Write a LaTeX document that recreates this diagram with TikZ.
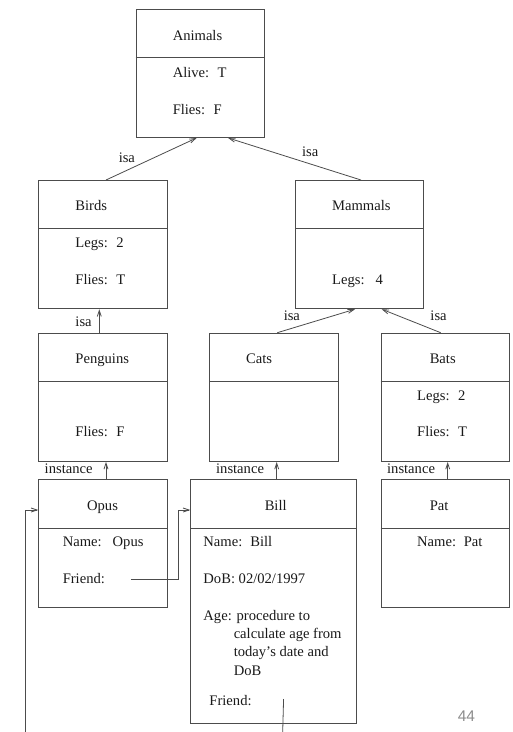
\documentclass[tikz,border=0pt]{standalone}
\usepackage{fontspec}
\setmainfont{Liberation Serif}
\newfontfamily\numfont{Liberation Sans}
\usetikzlibrary{arrows.meta}
\newcommand{\gapA}{\hspace{8.5pt}}
\newcommand{\gapB}{\hspace{11pt}}
\begin{document}
\begin{tikzpicture}[x=1pt,y=-1pt,
  line width=0.9pt,
  frame/.style={draw=black!70, line width=0.9pt, rectangle, inner sep=0pt, anchor=north west},
  txt/.style={inner sep=0pt, anchor=base west, font=\fontsize{14.6}{17}\selectfont, text=black!90},
  conn/.style={draw=black!70, line width=0.8pt},
  arr/.style={conn, -{Straight Barb[length=6pt,width=4pt]}}
]
\useasboundingbox (0,0) rectangle (513,732);

% boxes
\node[frame, minimum width=128.6pt, minimum height=128pt] (animals) at (135.7,9) {};
\node[frame, minimum width=128.4pt, minimum height=128.3pt] (birds) at (38.3,180) {};
\node[frame, minimum width=128.3pt, minimum height=128.3pt] (mammals) at (295,180) {};
\node[frame, minimum width=128.4pt, minimum height=128.3pt] (penguins) at (38.3,332.7) {};
\node[frame, minimum width=128.4pt, minimum height=128.3pt] (cats) at (209.3,332.7) {};
\node[frame, minimum width=128.6pt, minimum height=128.3pt] (bats) at (380.7,332.7) {};
\node[frame, minimum width=128.4pt, minimum height=127.7pt] (opus) at (38.3,479.3) {};
\node[frame, minimum width=165.7pt, minimum height=244pt] (bill) at (190.3,479.3) {};
\node[frame, minimum width=128.6pt, minimum height=127.7pt] (pat) at (380.7,479.3) {};

% header separators
\foreach \b in {animals,birds,mammals,penguins,cats,bats,opus,bill,pat}
  \draw[draw=black!70] ([yshift=-48.7pt]\b.north west) -- ([yshift=-48.7pt]\b.north east);

% texts
\node[txt] (tAnimals) at (172.3,40) {Animals};
\node[txt] (tAlive) at (172.3,77.3) {Alive:\gapA T};
\node[txt] (tFliesA) at (172.3,114) {Flies:\gapA F};

\node[txt] (tBirds) at (75,210.7) {Birds};
\node[txt] (tLegsB) at (75,247.7) {Legs:\gapA 2};
\node[txt] (tFliesB) at (75,284.3) {Flies:\gapA T};

\node[txt] (tMammals) at (331.7,210.7) {Mammals};
\node[txt] (tLegsM) at (331.7,284.3) {Legs:\gapB 4};

\node[txt] (tPenguins) at (75,363.7) {Penguins};
\node[txt] (tFliesP) at (75,436.7) {Flies:\gapA F};

\node[txt] (tCats) at (245.7,363.7) {Cats};

\node[txt] (tBats) at (429.3,363.7) {Bats};
\node[txt] (tLegsBa) at (416.7,400) {Legs:\gapA 2};
\node[txt] (tFliesBa) at (416.7,436.7) {Flies:\gapA T};

\node[txt] (tOpus) at (86.7,510) {Opus};
\node[txt] (tNameO) at (62.3,546.7) {Name:\gapB Opus};
\node[txt] (tFriendO) at (62.3,583.3) {Friend:};

\node[txt] (tBill) at (264.3,510) {Bill};
\node[txt] (tNameB) at (203,546.7) {Name:\hspace{8pt}Bill};
\node[txt] (tDoB) at (203,583.3) {DoB: 02/02/1997};
\node[txt] (tAge) at (203,620) {Age: procedure to};
\node[txt] (tAge2) at (233.3,638.7) {calculate age from};
\node[txt] (tAge3) at (233.3,656.7) {today’s date and};
\node[txt] (tAge4) at (233.3,675) {DoB};
\node[txt] (tFriendB) at (209,705.7) {Friend:};

\node[txt] (tPat) at (429.3,510) {Pat};
\node[txt] (tNameP) at (416.7,546.7) {Name:\hspace{7.7pt}Pat};

% labels
\node[txt] (lisa1) at (118.3,162.3) {isa};
\node[txt] (lisa2) at (301.7,156) {isa};
\node[txt] (lisa3) at (75,326.7) {isa};
\node[txt] (lisa4) at (283.3,320.7) {isa};
\node[txt] (lisa5) at (430,320.7) {isa};
\node[txt] (linst1) at (44.3,473.3) {instance};
\node[txt] (linst2) at (215.7,473.3) {instance};
\node[txt] (linst3) at (386.7,473.3) {instance};

\node[inner sep=0pt, anchor=base west, font=\numfont\fontsize{15.5}{18}\selectfont, text=black!45] (page) at (457.3,721) {44};

% isa / instance connectors
\draw[arr] ([xshift=67.7pt]birds.north west) -- ([xshift=61pt]animals.south west);
\draw[arr] ([xshift=66pt]mammals.north west) -- ([xshift=92.3pt]animals.south west);
\draw[arr] ([xshift=61pt]penguins.north west) -- ([xshift=61pt]birds.south west);
\draw[arr] ([xshift=68pt]cats.north west) -- ([xshift=60pt]mammals.south west);
\draw[arr] ([xshift=60pt]bats.north west) -- ([xshift=86.7pt]mammals.south west);
\draw[arr] ([xshift=67.7pt]opus.north west) -- ([xshift=67.7pt]penguins.south west);
\draw[arr] ([xshift=86.4pt]bill.north west) -- ([xshift=67.4pt]cats.south west);
\draw[arr] ([xshift=67pt]pat.north west) -- ([xshift=67pt]bats.south west);

% friend links
\coordinate (billout) at (282.7,732);
\coordinate (opusin) at (25.7,732);
\draw[arr] ([xshift=25.5pt,yshift=4.3pt]tFriendO.base east) -| ([xshift=-11.6pt,yshift=-30.7pt]bill.north west) -- ([yshift=-30.7pt]bill.north west);
\draw[conn] ([xshift=31.5pt,yshift=6.7pt]tFriendB.base east) -- (billout);
\draw[arr] (opusin) |- ([yshift=-30.7pt]opus.north west);
\end{tikzpicture}
\end{document}
